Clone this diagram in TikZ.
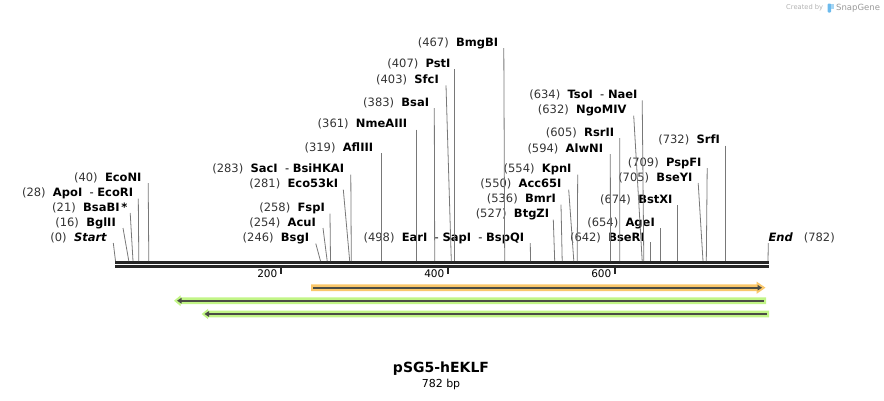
\documentclass[tikz,border=0pt]{standalone}
\usepackage{fontspec}
\setmainfont{DejaVu Sans}
\usetikzlibrary{arrows.meta}
\definecolor{cutgray}{rgb}{0.47,0.47,0.47}
\definecolor{cdsorange}{rgb}{0.98,0.78,0.42}
\definecolor{featgreen}{rgb}{0.76,0.96,0.53}
\definecolor{featline}{rgb}{0.29,0.30,0.27}
\definecolor{snapblue}{rgb}{0.42,0.73,0.93}
\newcommand{\cutpos}[1]{\textcolor{black!80}{(#1)}}

\begin{document}
\begin{tikzpicture}[x=1pt,y=-1pt]
\tikzstyle{enzyme} = [anchor=base east, inner sep=0pt, font=\fontsize{11.5}{13}\selectfont]
\tikzstyle{cut} = [draw=cutgray, line width=0.8pt]
\tikzstyle{backbone} = [draw=black!85, line width=3.2pt]
\tikzstyle{tick} = [draw=black!85, line width=1.6pt]
\tikzstyle{tick label} = [anchor=east, inner sep=0pt, font=\fontsize{10.5}{12}\selectfont]
\tikzstyle{feature line} = [draw=featline, line width=2.2pt]

\useasboundingbox (0,0) rectangle (884,400);

% backbone and ruler
\draw[backbone] (115,262.3) -- (768.5,262.3);
\draw[backbone] (115,266.3) -- (768.5,266.3);
\coordinate (t200) at (281,268);
\coordinate (t400) at (448,268);
\coordinate (t600) at (615,268);
\draw[tick] (t200) -- ++(0,6);
\draw[tick] (t400) -- ++(0,6);
\draw[tick] (t600) -- ++(0,6);
\node[tick label] (l200) at (277.5,273.5) {200};
\node[tick label] (l400) at (444.5,273.5) {400};
\node[tick label] (l600) at (611.5,273.5) {600};

% cut sites on the backbone
\coordinate (sStart) at (115.5,261);
\coordinate (sBglII) at (128.8,261);
\coordinate (sBsaBI) at (133,261);
\coordinate (sApoI) at (138.8,261);
\coordinate (sEcoNI) at (148.8,261);
\coordinate (sBsgI) at (320.5,261);
\coordinate (sAcuI) at (327.2,261);
\coordinate (sFspI) at (330.5,261);
\coordinate (sEco53kI) at (349.7,261);
\coordinate (sSacI) at (351.3,261);
\coordinate (sAflIII) at (381.3,261);
\coordinate (sNmeAIII) at (416.3,261);
\coordinate (sBsaI) at (434.7,261);
\coordinate (sSfcI) at (451.3,261);
\coordinate (sPstI) at (454.7,261);
\coordinate (sBmgBI) at (504.7,261);
\coordinate (sEarI) at (530.5,261);
\coordinate (sBtgZI) at (554.7,261);
\coordinate (sBmrI) at (562.2,261);
\coordinate (sAcc65I) at (573.8,261);
\coordinate (sKpnI) at (577.2,261);
\coordinate (sAlwNI) at (610.5,261);
\coordinate (sRsrII) at (619.7,261);
\coordinate (sNgoMIV) at (642.2,261);
\coordinate (sTsoI) at (643.8,261);
\coordinate (sBseRI) at (650.5,261);
\coordinate (sAgeI) at (660.5,261);
\coordinate (sBstXI) at (677.2,261);
\coordinate (sBseYI) at (703,261);
\coordinate (sPspFI) at (706.3,261);
\coordinate (sSrfI) at (725.5,261);
\coordinate (sEnd) at (768,261);

% labels
\node[enzyme] (Start) at (107.3,241) {\cutpos{0}~~\textbf{\textit{Start}}};
\node[enzyme] (BglII) at (116,226) {\cutpos{16}~~\textbf{BglII}};
\node[enzyme] (BsaBI) at (127.7,211) {\cutpos{21}~~\textbf{BsaBI\,*}};
\node[enzyme] (ApoI) at (133.3,196.6) {\cutpos{28}~~\textbf{ApoI}~~-~\textbf{EcoRI}};
\node[enzyme] (EcoNI) at (141.7,181) {\cutpos{40}~~\textbf{EcoNI}};
\node[enzyme] (BsgI) at (309.3,241.6) {\cutpos{246}~~\textbf{BsgI}};
\node[enzyme] (AcuI) at (316,226) {\cutpos{254}~~\textbf{AcuI}};
\node[enzyme] (FspI) at (325,211.6) {\cutpos{258}~~\textbf{FspI}};
\node[enzyme] (Eco53kI) at (338.3,187.6) {\cutpos{281}~~\textbf{Eco53kI}};
\node[enzyme] (SacI) at (344.3,172.6) {\cutpos{283}~~\textbf{SacI}~~-~\textbf{BsiHKAI}};
\node[enzyme] (AflIII) at (373.3,151) {\cutpos{319}~~\textbf{AflIII}};
\node[enzyme] (NmeAIII) at (407.3,127.6) {\cutpos{361}~~\textbf{NmeAIII}};
\node[enzyme] (BsaI) at (429.3,106) {\cutpos{383}~~\textbf{BsaI}};
\node[enzyme] (SfcI) at (439,83.3) {\cutpos{403}~~\textbf{SfcI}};
\node[enzyme] (PstI) at (450.7,67.3) {\cutpos{407}~~\textbf{PstI}};
\node[enzyme] (BmgBI) at (498.3,46) {\cutpos{467}~~\textbf{BmgBI}};
\node[enzyme] (EarI) at (524.3,241) {\cutpos{498}~~\textbf{EarI}~~-~\textbf{SapI}~~-~\textbf{BspQI}};
\node[enzyme] (BtgZI) at (549.3,217.6) {\cutpos{527}~~\textbf{BtgZI}};
\node[enzyme] (BmrI) at (556,202.6) {\cutpos{536}~~\textbf{BmrI}};
\node[enzyme] (Acc65I) at (561.7,187.6) {\cutpos{550}~~\textbf{Acc65I}};
\node[enzyme] (KpnI) at (571.7,172.6) {\cutpos{554}~~\textbf{KpnI}};
\node[enzyme] (AlwNI) at (603.3,152) {\cutpos{594}~~\textbf{AlwNI}};
\node[enzyme] (RsrII) at (614.3,136) {\cutpos{605}~~\textbf{RsrII}};
\node[enzyme] (NgoMIV) at (626.7,113.6) {\cutpos{632}~~\textbf{NgoMIV}};
\node[enzyme] (TsoI) at (637.7,98.3) {\cutpos{634}~~\textbf{TsoI}~~-~\textbf{NaeI}};
\node[enzyme] (BseRI) at (645,241) {\cutpos{642}~~\textbf{BseRI}};
\node[enzyme] (AgeI) at (655,226) {\cutpos{654}~~\textbf{AgeI}};
\node[enzyme] (BstXI) at (672.7,203.3) {\cutpos{674}~~\textbf{BstXI}};
\node[enzyme] (BseYI) at (692.7,181) {\cutpos{705}~~\textbf{BseYI}};
\node[enzyme] (PspFI) at (701.7,166) {\cutpos{709}~~\textbf{PspFI}};
\node[enzyme] (SrfI) at (720,143.6) {\cutpos{732}~~\textbf{SrfI}};
\node[enzyme, anchor=base west] (End) at (768.3,241) {\textbf{\textit{End}}~~~\cutpos{782}};

% cut lines
\draw[cut] ([shift={(6,2)}]Start.base east) -- (sStart);
\draw[cut] ([shift={(7,2)}]BglII.base east) -- (sBglII);
\draw[cut] ([shift={(2.5,2)}]BsaBI.base east) -- (sBsaBI);
\draw[cut] ([shift={(5,2)}]ApoI.base east) -- (sApoI);
\draw[cut] ([shift={(6.5,2)}]EcoNI.base east) -- (sEcoNI);
\draw[cut] ([shift={(6.5,2)}]BsgI.base east) -- (sBsgI);
\draw[cut] ([shift={(7,2)}]AcuI.base east) -- (sAcuI);
\draw[cut] ([shift={(5,2)}]FspI.base east) -- (sFspI);
\draw[cut] ([shift={(5,2)}]Eco53kI.base east) -- (sEco53kI);
\draw[cut] ([shift={(6.5,2)}]SacI.base east) -- (sSacI);
\draw[cut] ([shift={(8,2)}]AflIII.base east) -- (sAflIII);
\draw[cut] ([shift={(9,2)}]NmeAIII.base east) -- (sNmeAIII);
\draw[cut] ([shift={(5,2)}]BsaI.base east) -- (sBsaI);
\draw[cut] ([shift={(7,2)}]SfcI.base east) -- (sSfcI);
\draw[cut] ([shift={(4,2)}]PstI.base east) -- (sPstI);
\draw[cut] ([shift={(5.5,2)}]BmgBI.base east) -- (sBmgBI);
\draw[cut] ([shift={(6,2)}]EarI.base east) -- (sEarI);
\draw[cut] ([shift={(4,2)}]BtgZI.base east) -- (sBtgZI);
\draw[cut] ([shift={(5,2)}]BmrI.base east) -- (sBmrI);
\draw[cut] ([shift={(7,2)}]Acc65I.base east) -- (sAcc65I);
\draw[cut] ([shift={(6,2)}]KpnI.base east) -- (sKpnI);
\draw[cut] ([shift={(7,2)}]AlwNI.base east) -- (sAlwNI);
\draw[cut] ([shift={(5.5,2)}]RsrII.base east) -- (sRsrII);
\draw[cut] ([shift={(7,2)}]NgoMIV.base east) -- (sNgoMIV);
\draw[cut] ([shift={(4.5,2)}]TsoI.base east) -- (sTsoI);
\draw[cut] ([shift={(5.5,1)}]BseRI.base east) -- (sBseRI);
\draw[cut] ([shift={(5.5,2)}]AgeI.base east) -- (sAgeI);
\draw[cut] ([shift={(4.5,2)}]BstXI.base east) -- (sBstXI);
\draw[cut] ([shift={(5.5,2)}]BseYI.base east) -- (sBseYI);
\draw[cut] ([shift={(5.5,2)}]PspFI.base east) -- (sPspFI);
\draw[cut] ([shift={(5.5,2)}]SrfI.base east) -- (sSrfI);
\draw[cut] ([shift={(0,2)}]End.base west) -- (sEnd);

% features
\fill[cdsorange] (311,284.4) -- (756.5,284.4) -- (756.5,281.5) -- (765.5,287.7) -- (756.5,293.9) -- (756.5,291) -- (311,291) -- cycle;
\draw[feature line, -{Triangle[length=4.5pt,width=5.5pt]}] (313,287.7) -- (762,287.7);
\fill[featgreen] (766,297.3) -- (180.5,297.3) -- (180.5,295.3) -- (174,300.7) -- (180.5,306.1) -- (180.5,304.1) -- (766,304.1) -- cycle;
\draw[feature line, -{Triangle[length=4.5pt,width=5.5pt]}] (763.5,300.7) -- (177,300.7);
\fill[featgreen] (769,310.6) -- (208.2,310.6) -- (208.2,308.6) -- (201.7,314) -- (208.2,319.4) -- (208.2,317.4) -- (769,317.4) -- cycle;
\draw[feature line, -{Triangle[length=4.5pt,width=5.5pt]}] (766.5,314) -- (204.5,314);

% title
\node[font=\fontsize{14}{16}\selectfont\bfseries] (title) at (441,369) {pSG5-hEKLF};
\node[font=\fontsize{11}{13}\selectfont] (size) at (441,384) {782 bp};

% credit
\node[anchor=east, inner sep=0pt, text=black!30, font=\fontsize{6.7}{8}\selectfont] (created) at (823.3,8) {Created by};
\fill[snapblue, rounded corners=1pt] (827.5,3.5) rectangle (831,12.5);
\fill[snapblue!60] (831,3.5) rectangle (834,8.5);
\node[anchor=west, inner sep=0pt, text=black!40, font=\fontsize{8.5}{10}\selectfont] (snapgene) at (836,8) {SnapGene};
\end{tikzpicture}
\end{document}
